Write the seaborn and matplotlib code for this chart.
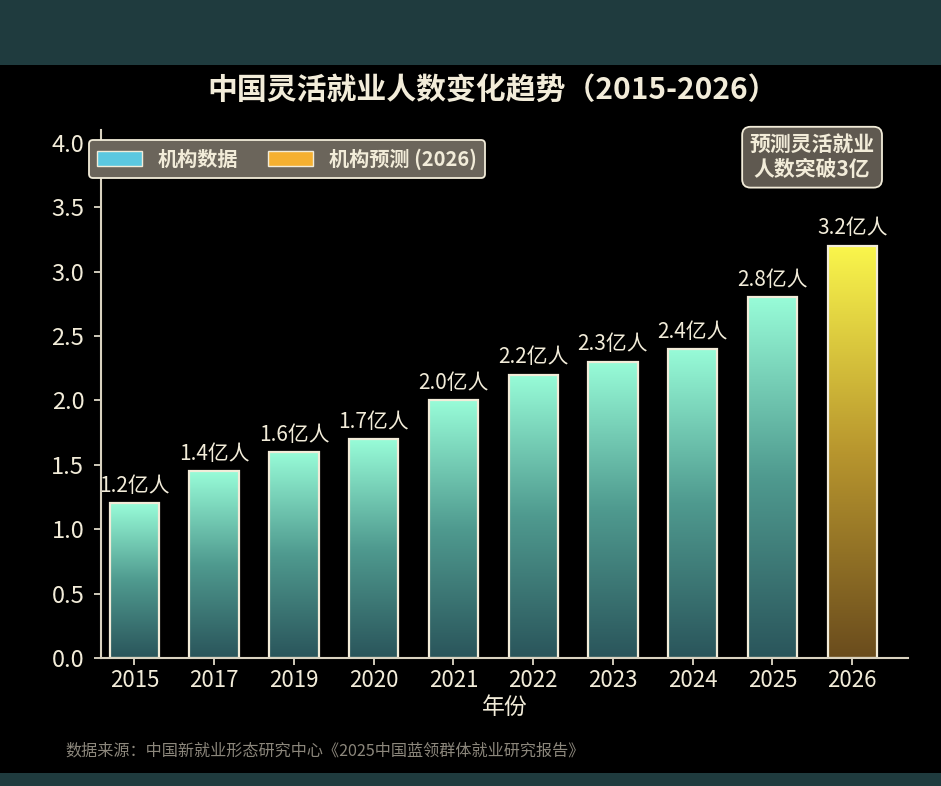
import numpy as np
import pandas as pd
import seaborn as sns
import matplotlib.pyplot as plt
from matplotlib.patches import Patch, Rectangle
from matplotlib.colors import LinearSegmentedColormap

# === 数据 ===
years = ["2015", "2017", "2019", "2020", "2021", "2022", "2023", "2024", "2025", "2026"]
values = [1.2, 1.45, 1.6, 1.7, 2.0, 2.2, 2.3, 2.4, 2.8, 3.2]
kinds = ["机构数据"] * 9 + ["机构预测 (2026)"]
yticks = [0.0, 0.5, 1.0, 1.5, 2.0, 2.5, 3.0, 3.5, 4.0]

title = "中国灵活就业人数变化趋势（2015-2026）"
note = "预测灵活就业\n人数突破3亿"
source = "数据来源：中国新就业形态研究中心《2025中国蓝领群体就业研究报告》"

df = pd.DataFrame({"年份": years, "人数": values, "类型": kinds})

cream = "#f2ecd9"
teal_cmap = LinearSegmentedColormap.from_list("teal", ["#2a555b", "#4f9a8f", "#98fcd8"])
gold_cmap = LinearSegmentedColormap.from_list("gold", ["#6a4c1d", "#b8962e", "#faf64c"])

sns.set_style("ticks")
plt.rcParams["font.family"] = ["Noto Sans CJK SC", "DejaVu Sans"]

fig = plt.figure(figsize=(9.41, 7.86), dpi=100, facecolor="#1f3b3e")
fig.patches.append(Rectangle((0, 0.0165), 1, 0.9008, transform=fig.transFigure,
                             facecolor="black", edgecolor="none", zorder=-10))
ax = fig.add_axes([0.1073, 0.1628, 0.8577, 0.6718])
ax.set_facecolor("black")

sns.barplot(data=df, x="年份", y="人数", hue="类型", dodge=False, width=0.62,
            palette={"机构数据": "#5bc8e0", "机构预测 (2026)": "#f5b030"},
            legend=False, ax=ax)

# 渐变填充
grad = np.linspace(0, 1, 256).reshape(-1, 1)
for p in ax.patches:
    h = p.get_height()
    if not h or np.isnan(h):
        continue
    x0 = p.get_x()
    w = p.get_width()
    idx = int(round(x0 + w / 2))
    cmap = gold_cmap if idx == len(years) - 1 else teal_cmap
    im = ax.imshow(grad, cmap=cmap, origin="lower", aspect="auto",
                   extent=[x0, x0 + w, 0, h], zorder=1.5)
    im.set_clip_path(p)
    p.set_facecolor("none")
    p.set_edgecolor(cream)
    p.set_linewidth(1.6)
    p.set_zorder(2)
    ax.text(x0 + w / 2, h + 0.05, f"{values[idx]:.1f}亿人", ha="center", va="bottom",
            color=cream, fontsize=15)

ax.set_xlim(-0.42, 9.7)
ax.set_ylim(0, 4.1)
ax.set_yticks(yticks)
ax.set_yticklabels([f"{t:.1f}" for t in yticks])
ax.tick_params(colors=cream, length=5, width=1.2)
ax.tick_params(axis="x", pad=3, labelsize=16)
ax.tick_params(axis="y", pad=7, labelsize=17)
for s in ["top", "right"]:
    ax.spines[s].set_visible(False)
for s in ["left", "bottom"]:
    ax.spines[s].set_color("#d9d2c0")
    ax.spines[s].set_linewidth(1.5)
ax.set_xlabel("年份", color=cream, fontsize=16.5, labelpad=3)
ax.set_ylabel("")

handles = [Patch(facecolor="#5bc8e0", edgecolor=cream, label="机构数据"),
           Patch(facecolor="#f5b030", edgecolor=cream, label="机构预测 (2026)")]
leg = ax.legend(handles=handles, loc="upper left", bbox_to_anchor=(-0.027, 1.0),
                ncol=2, frameon=True, fancybox=True, framealpha=1,
                handlelength=2.2, handleheight=0.75, handletextpad=0.8,
                columnspacing=1.5, borderpad=0.4, borderaxespad=0.5,
                prop={"weight": "bold", "size": 14.5})
leg.get_frame().set_facecolor("#6b655b")
leg.get_frame().set_edgecolor(cream)
leg.get_frame().set_linewidth(1.3)
for t in leg.get_texts():
    t.set_color(cream)

fig.text(0.863, 0.800, note, ha="center", va="center", color=cream, fontsize=15,
         fontweight="bold", linespacing=1.25,
         bbox=dict(boxstyle="round,pad=0.35,rounding_size=0.4", facecolor="#5f5950",
                   edgecolor=cream, linewidth=1.3))

fig.text(0.524, 0.886, title, ha="center", va="center", color=cream,
         fontsize=21.5, fontweight="bold")
fig.text(0.069, 0.044, source, ha="left", va="center", color="#8c877c", fontsize=11.6)

fig.savefig("out.png", dpi=100, facecolor=fig.get_facecolor())
